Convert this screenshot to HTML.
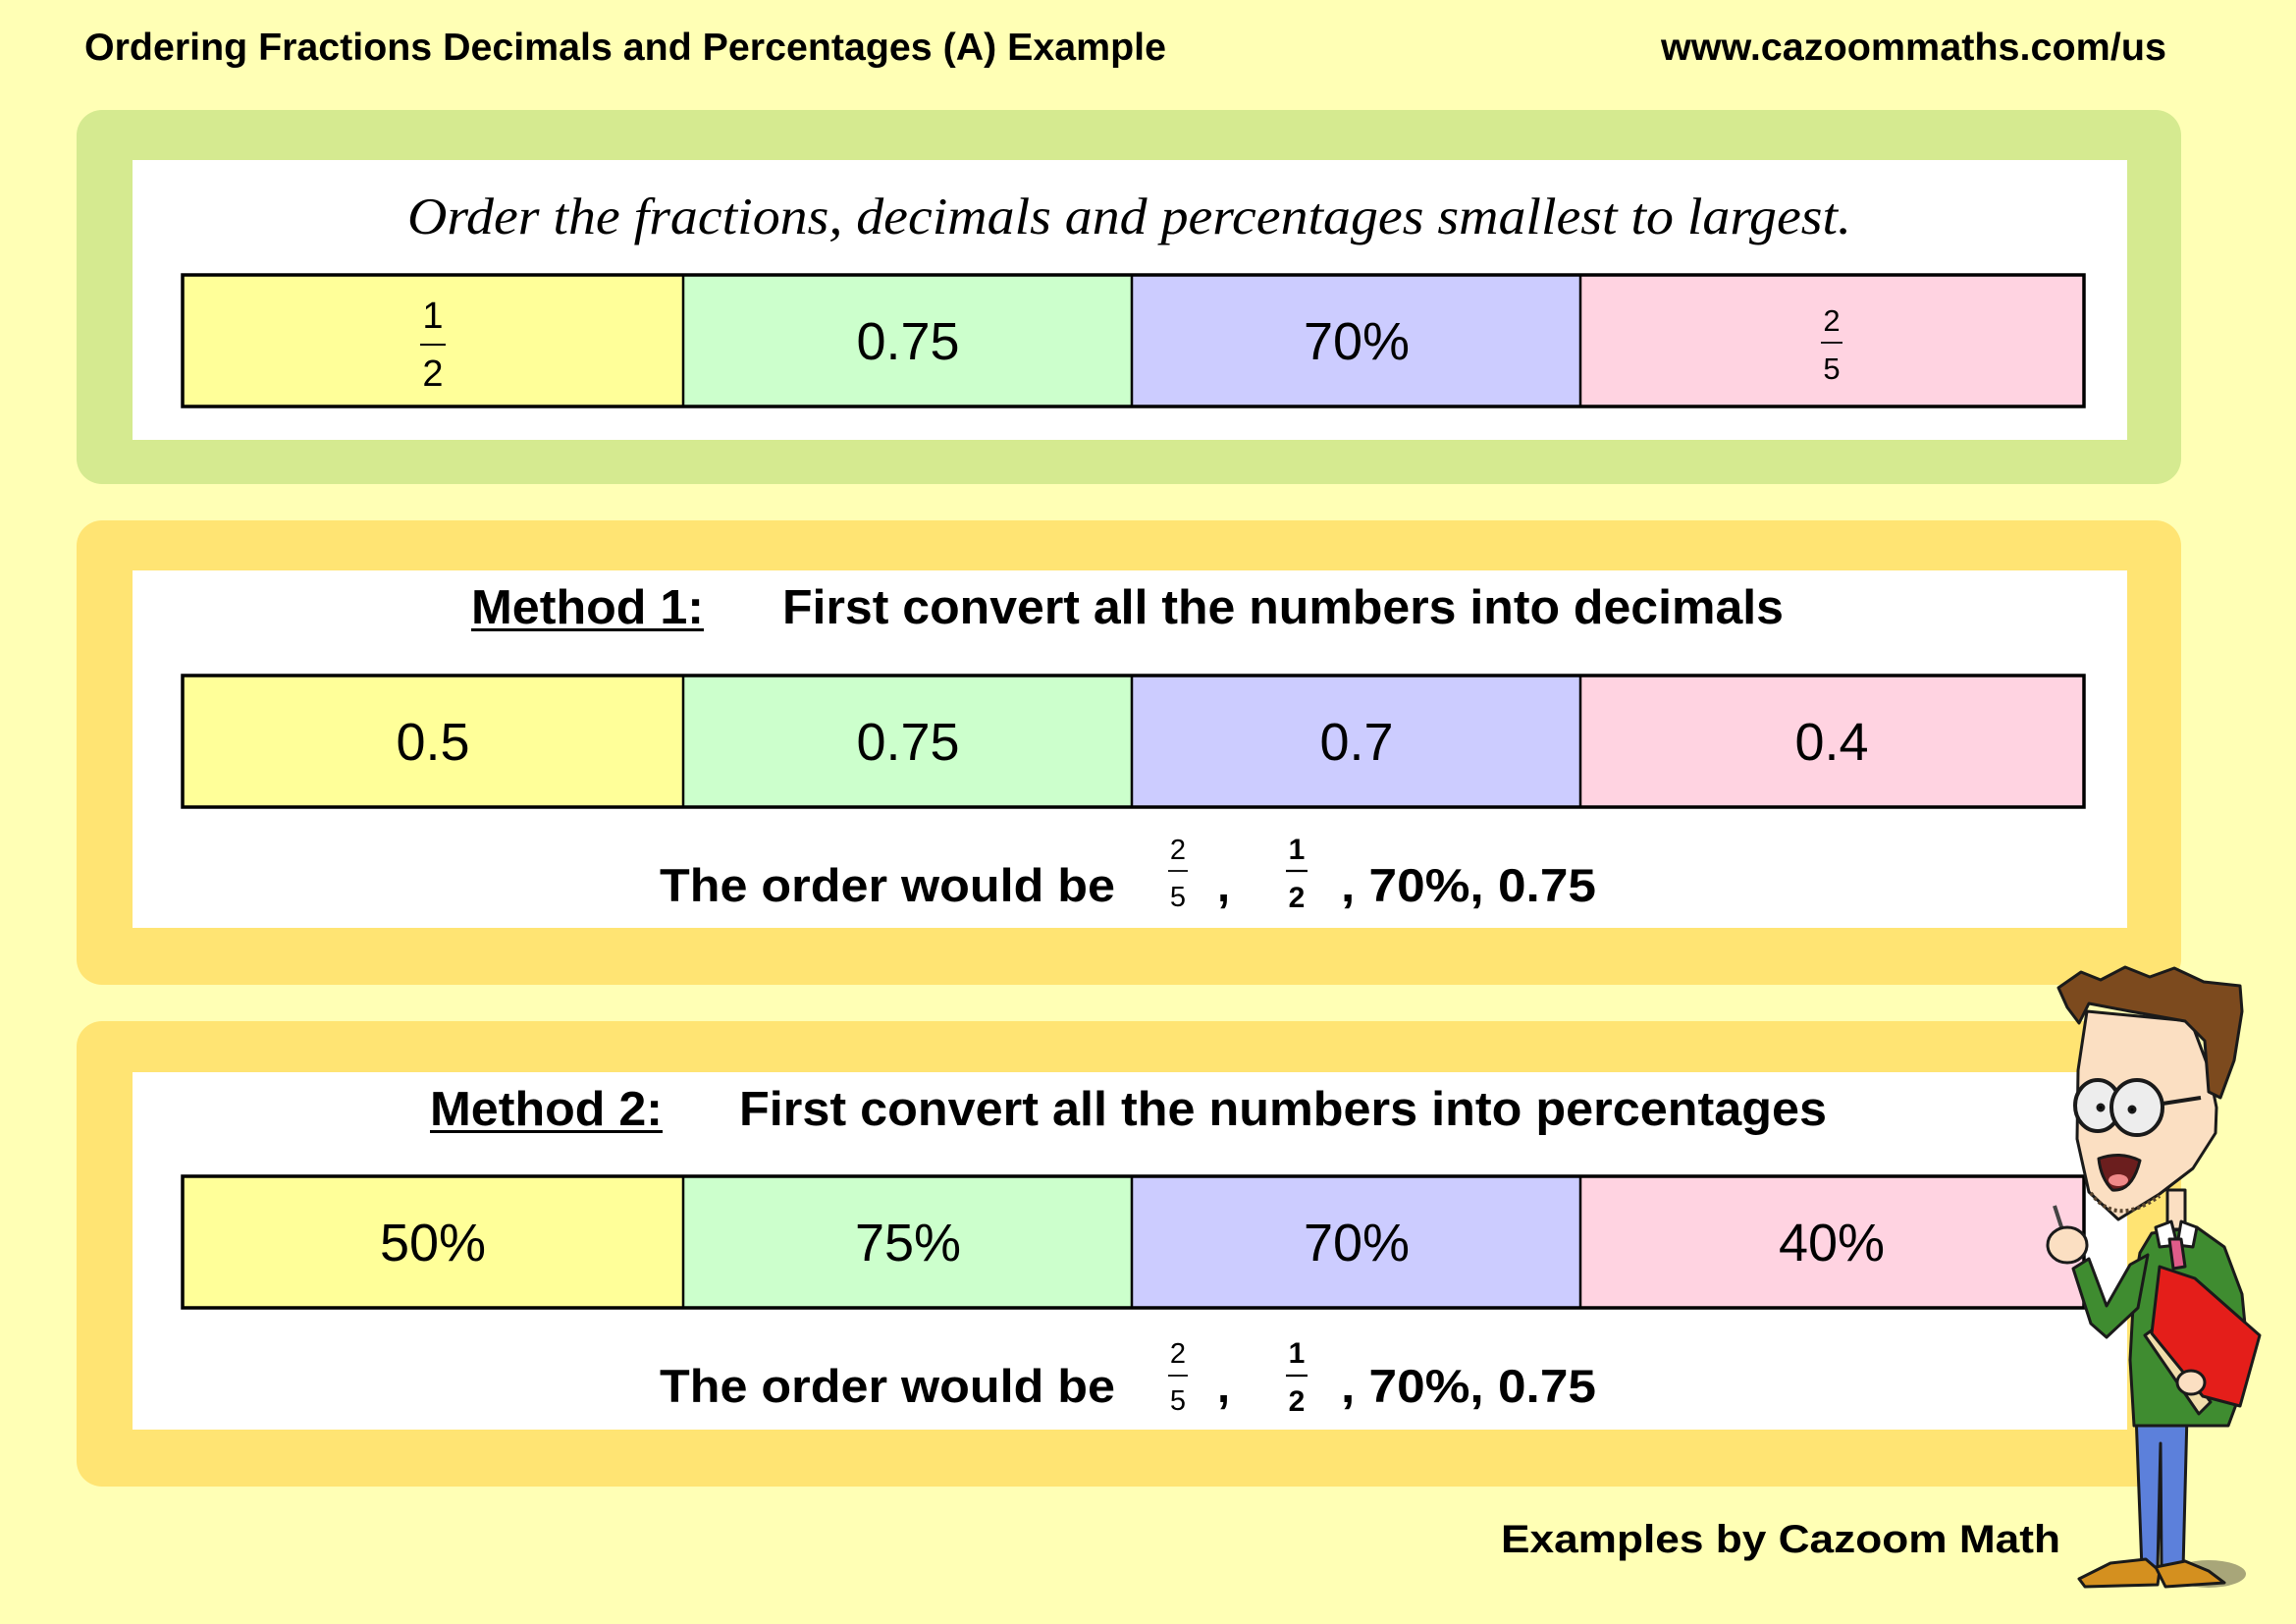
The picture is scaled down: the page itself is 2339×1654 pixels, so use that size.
<!DOCTYPE html>
<html><head><meta charset="utf-8"><style>
html,body{margin:0;padding:0;background:#FFFFB5;}
svg{display:block;}
.b{font-family:"Liberation Sans",Arial,sans-serif;font-weight:bold;fill:#000;}
.n{font-family:"Liberation Sans",Arial,sans-serif;fill:#000;}
.i{font-family:"Liberation Serif","Times New Roman",serif;font-style:italic;fill:#000;}
</style></head><body>
<svg width="2339" height="1654" viewBox="0 0 2339 1654" xmlns="http://www.w3.org/2000/svg">
<rect x="0" y="0" width="2339" height="1654" fill="#FFFFB5"/>
<!-- header -->
<text class="b" x="86" y="61" font-size="39" textLength="1102" lengthAdjust="spacingAndGlyphs">Ordering Fractions Decimals and Percentages (A) Example</text>
<text class="b" x="1692" y="61" font-size="39" textLength="515" lengthAdjust="spacingAndGlyphs">www.cazoommaths.com/us</text>

<!-- section 1 -->
<rect x="78" y="112" width="2144" height="381" rx="26" fill="#D5EA90"/>
<rect x="135" y="163" width="2032" height="285" fill="#FFFFFF"/>
<text class="i" x="415" y="238" font-size="53" textLength="1471" lengthAdjust="spacingAndGlyphs">Order the fractions, decimals and percentages smallest to largest.</text>
<g>
<rect x="186" y="280" width="510" height="134" fill="#FFFF99"/>
<rect x="696" y="280" width="457" height="134" fill="#CCFFCC"/>
<rect x="1153" y="280" width="457" height="134" fill="#CCCCFF"/>
<rect x="1610" y="280" width="513" height="134" fill="#FFD3E1"/>
<line x1="696" y1="280" x2="696" y2="414" stroke="#000" stroke-width="2.5"/>
<line x1="1153" y1="280" x2="1153" y2="414" stroke="#000" stroke-width="2.5"/>
<line x1="1610" y1="280" x2="1610" y2="414" stroke="#000" stroke-width="2.5"/>
<rect x="186" y="280" width="1937" height="134" fill="none" stroke="#000" stroke-width="3.5"/>
<text class="n" x="441" y="334" font-size="38" text-anchor="middle">1</text>
<line x1="428" y1="351" x2="454" y2="351" stroke="#000" stroke-width="2"/>
<text class="n" x="441" y="393" font-size="38" text-anchor="middle">2</text>
<text class="n" x="925" y="366" font-size="54" text-anchor="middle">0.75</text>
<text class="n" x="1382" y="366" font-size="54" text-anchor="middle">70%</text>
<text class="n" x="1866" y="337" font-size="31" text-anchor="middle">2</text>
<line x1="1855" y1="349" x2="1877" y2="349" stroke="#000" stroke-width="1.8"/>
<text class="n" x="1866" y="386" font-size="31" text-anchor="middle">5</text>
</g>

<!-- section 2 -->
<rect x="78" y="530" width="2144" height="473" rx="26" fill="#FFE473"/>
<rect x="135" y="581" width="2032" height="364" fill="#FFFFFF"/>
<text class="b" x="480" y="635" font-size="49" textLength="237" lengthAdjust="spacingAndGlyphs">Method 1:</text>
<line x1="480" y1="641.5" x2="717" y2="641.5" stroke="#000" stroke-width="3"/>
<text class="b" x="797" y="635" font-size="49" textLength="1020" lengthAdjust="spacingAndGlyphs">First convert all the numbers into decimals</text>
<g>
<rect x="186" y="688" width="510" height="134" fill="#FFFF99"/>
<rect x="696" y="688" width="457" height="134" fill="#CCFFCC"/>
<rect x="1153" y="688" width="457" height="134" fill="#CCCCFF"/>
<rect x="1610" y="688" width="513" height="134" fill="#FFD3E1"/>
<line x1="696" y1="688" x2="696" y2="822" stroke="#000" stroke-width="2.5"/>
<line x1="1153" y1="688" x2="1153" y2="822" stroke="#000" stroke-width="2.5"/>
<line x1="1610" y1="688" x2="1610" y2="822" stroke="#000" stroke-width="2.5"/>
<rect x="186" y="688" width="1937" height="134" fill="none" stroke="#000" stroke-width="3.5"/>
<text class="n" x="441" y="774" font-size="54" text-anchor="middle">0.5</text>
<text class="n" x="925" y="774" font-size="54" text-anchor="middle">0.75</text>
<text class="n" x="1382" y="774" font-size="54" text-anchor="middle">0.7</text>
<text class="n" x="1866" y="774" font-size="54" text-anchor="middle">0.4</text>
</g>
<text class="b" x="672" y="918" font-size="47" textLength="464" lengthAdjust="spacingAndGlyphs">The order would be</text>
<text class="n" x="1200" y="875" font-size="29" text-anchor="middle">2</text>
<line x1="1190" y1="887" x2="1210" y2="887" stroke="#000" stroke-width="1.8"/>
<text class="n" x="1200" y="923" font-size="29" text-anchor="middle">5</text>
<text class="b" x="1240" y="918" font-size="47">,</text>
<text class="b" x="1321" y="875" font-size="30" text-anchor="middle">1</text>
<line x1="1310" y1="887" x2="1332" y2="887" stroke="#000" stroke-width="2.2"/>
<text class="b" x="1321" y="924" font-size="30" text-anchor="middle">2</text>
<text class="b" x="1366" y="918" font-size="47" textLength="260" lengthAdjust="spacingAndGlyphs">, 70%, 0.75</text>

<!-- section 3 -->
<rect x="78" y="1040" width="2144" height="474" rx="26" fill="#FFE473"/>
<rect x="135" y="1092" width="2032" height="364" fill="#FFFFFF"/>
<text class="b" x="438" y="1146" font-size="49" textLength="237" lengthAdjust="spacingAndGlyphs">Method 2:</text>
<line x1="438" y1="1152.5" x2="675" y2="1152.5" stroke="#000" stroke-width="3"/>
<text class="b" x="753" y="1146" font-size="49" textLength="1108" lengthAdjust="spacingAndGlyphs">First convert all the numbers into percentages</text>
<g>
<rect x="186" y="1198" width="510" height="134" fill="#FFFF99"/>
<rect x="696" y="1198" width="457" height="134" fill="#CCFFCC"/>
<rect x="1153" y="1198" width="457" height="134" fill="#CCCCFF"/>
<rect x="1610" y="1198" width="513" height="134" fill="#FFD3E1"/>
<line x1="696" y1="1198" x2="696" y2="1332" stroke="#000" stroke-width="2.5"/>
<line x1="1153" y1="1198" x2="1153" y2="1332" stroke="#000" stroke-width="2.5"/>
<line x1="1610" y1="1198" x2="1610" y2="1332" stroke="#000" stroke-width="2.5"/>
<rect x="186" y="1198" width="1937" height="134" fill="none" stroke="#000" stroke-width="3.5"/>
<text class="n" x="441" y="1284" font-size="54" text-anchor="middle">50%</text>
<text class="n" x="925" y="1284" font-size="54" text-anchor="middle">75%</text>
<text class="n" x="1382" y="1284" font-size="54" text-anchor="middle">70%</text>
<text class="n" x="1866" y="1284" font-size="54" text-anchor="middle">40%</text>
</g>
<text class="b" x="672" y="1428" font-size="47" textLength="464" lengthAdjust="spacingAndGlyphs">The order would be</text>
<text class="n" x="1200" y="1388" font-size="29" text-anchor="middle">2</text>
<line x1="1190" y1="1401" x2="1210" y2="1401" stroke="#000" stroke-width="1.8"/>
<text class="n" x="1200" y="1436" font-size="29" text-anchor="middle">5</text>
<text class="b" x="1240" y="1428" font-size="47">,</text>
<text class="b" x="1321" y="1388" font-size="30" text-anchor="middle">1</text>
<line x1="1310" y1="1401" x2="1332" y2="1401" stroke="#000" stroke-width="2.2"/>
<text class="b" x="1321" y="1437" font-size="30" text-anchor="middle">2</text>
<text class="b" x="1366" y="1428" font-size="47" textLength="260" lengthAdjust="spacingAndGlyphs">, 70%, 0.75</text>

<text class="b" x="1529" y="1581" font-size="40" textLength="570" lengthAdjust="spacingAndGlyphs">Examples by Cazoom Math</text>

<!-- cartoon teacher -->
<g stroke="#1a1a1a" stroke-width="3" stroke-linejoin="round">
<ellipse cx="2250" cy="1603" rx="38" ry="14" fill="#A8A679" stroke="none"/>
<!-- legs -->
<polygon points="2176,1440 2228,1440 2224,1598 2202,1598 2201,1470 2198,1598 2182,1598" fill="#5C80DB"/>
<!-- shoes -->
<polygon points="2118,1608 2150,1592 2186,1588 2200,1600 2198,1614 2124,1616" fill="#D4901F"/>
<polygon points="2196,1596 2226,1590 2250,1600 2266,1612 2206,1616" fill="#D4901F"/>
<!-- torso -->
<polygon points="2192,1256 2238,1250 2266,1270 2284,1318 2290,1380 2280,1425 2270,1452 2174,1452 2170,1385 2174,1312 2180,1276" fill="#3F8C30"/>
<!-- arm raised -->
<polygon points="2188,1278 2178,1332 2146,1362 2130,1348 2112,1292 2128,1282 2146,1330 2170,1288" fill="#3F8C30"/>
<!-- hand + pencil -->
<line x1="2093" y1="1228" x2="2104" y2="1262" stroke="#444" stroke-width="4"/>
<ellipse cx="2106" cy="1268" rx="20" ry="18" fill="#FBDFC2"/>
<!-- book -->
<polygon points="2185,1360 2196,1352 2252,1428 2240,1440" fill="#F0DDAA"/>
<polygon points="2200,1290 2236,1302 2302,1360 2282,1432 2244,1422 2192,1358" fill="#E41E1A"/>
<ellipse cx="2232" cy="1408" rx="14" ry="12" fill="#FBDFC2"/>
<!-- neck & collar -->
<rect x="2208" y="1212" width="18" height="40" fill="#FBDFC2"/>
<polygon points="2196,1250 2212,1244 2218,1268 2200,1270" fill="#ffffff"/>
<polygon points="2222,1244 2238,1250 2234,1270 2218,1268" fill="#ffffff"/>
<polygon points="2210,1262 2222,1262 2226,1290 2214,1292" fill="#E05C8A"/>
<!-- face -->
<polygon points="2126,1030 2232,1040 2250,1088 2258,1128 2257,1154 2234,1190 2200,1216 2158,1242 2128,1214 2116,1160 2117,1090" fill="#FBDFC2"/>
<path d="M2130,1215 Q2155,1250 2200,1218" fill="none" stroke="#5a4630" stroke-width="4" stroke-dasharray="3,3"/>
<!-- hair -->
<polygon points="2097,1006 2120,990 2140,998 2165,985 2190,995 2215,986 2245,1000 2282,1004 2284,1030 2276,1080 2262,1118 2250,1112 2246,1060 2226,1040 2170,1030 2128,1022 2118,1042 2106,1026" fill="#7C4A1E"/>
<!-- glasses -->
<ellipse cx="2137" cy="1126" rx="23" ry="26" fill="#EDEDED" stroke-width="4"/>
<ellipse cx="2177" cy="1128" rx="26" ry="28" fill="#EDEDED" stroke-width="4"/>
<line x1="2203" y1="1124" x2="2242" y2="1118" stroke-width="4"/>
<circle cx="2140" cy="1128" r="3" fill="#000"/>
<circle cx="2172" cy="1130" r="3" fill="#000"/>
<!-- mouth -->
<path d="M2138,1180 Q2160,1172 2180,1182 Q2172,1214 2152,1212 Q2140,1200 2138,1180 Z" fill="#6B1E1E"/>
<ellipse cx="2158" cy="1202" rx="10" ry="6" fill="#F08A8A" stroke="none"/>
</g>
</svg>
</body></html>
